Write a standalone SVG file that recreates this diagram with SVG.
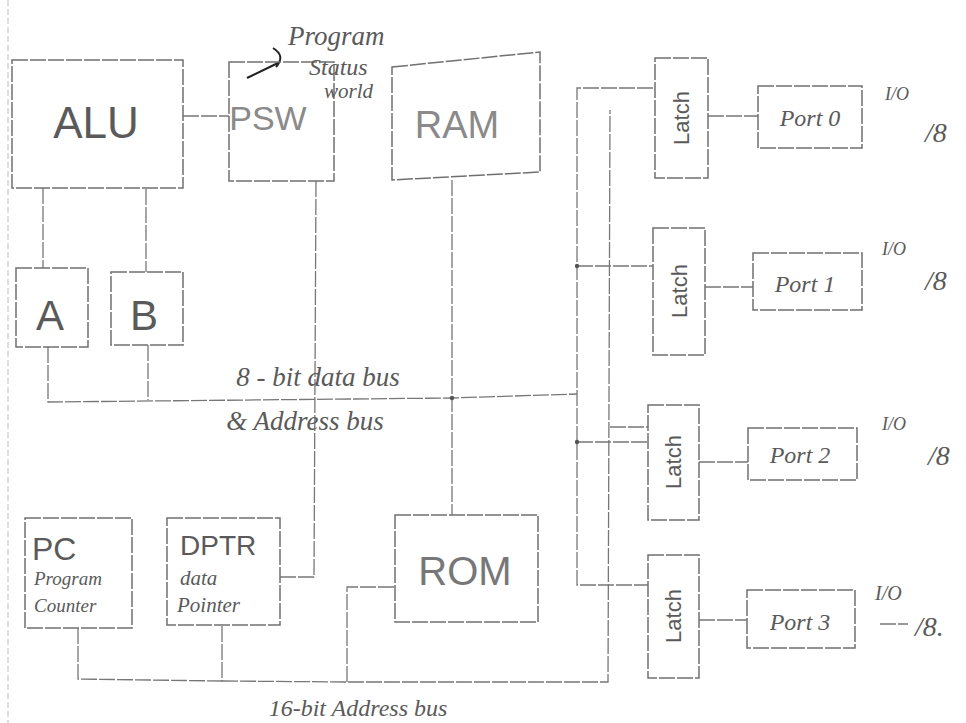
<svg xmlns="http://www.w3.org/2000/svg" width="966" height="723" viewBox="0 0 966 723">
<style>
.bx{fill:none;stroke:#707070;stroke-width:1.5;stroke-dasharray:16 2}
.ln{fill:none;stroke:#777777;stroke-width:1.3;stroke-dasharray:16 2}
.t{font-family:"Liberation Sans",Arial,sans-serif;fill:#5a5a5a;text-anchor:middle}
.h{font-family:"Liberation Serif","Times New Roman",serif;font-style:italic;fill:#5a5a5a}
.dot{fill:#555}
</style>
<rect width="966" height="723" fill="#ffffff"/>
<line x1="8" y1="0" x2="8" y2="723" stroke="#c4c8cc" stroke-width="1.2" stroke-dasharray="6 3"/>

<g id="connectors">
  <line class="ln" x1="183" y1="116" x2="229" y2="116"/>
  <line class="ln" x1="43" y1="188" x2="43" y2="268"/>
  <line class="ln" x1="146" y1="189" x2="146" y2="272"/>
  <polyline class="ln" points="48,347 48,402 452,398 577,394"/>
  <line class="ln" x1="148" y1="345" x2="148" y2="400"/>
  <polyline class="ln" points="316,181 314,577 280,577"/>
  <line class="ln" x1="452" y1="180" x2="452" y2="515"/>
  <polyline class="ln" points="653,88 577,88 577,585 648,585"/>
  <line class="ln" x1="577" y1="266" x2="653" y2="266"/>
  <line class="ln" x1="610" y1="427" x2="648" y2="427"/>
  <line class="ln" x1="577" y1="442" x2="648" y2="442"/>
  <polyline class="ln" points="78,628 78,679 222,681 222,625"/>
  <polyline class="ln" points="222,681 347,682 608,682 610,110"/>
  <polyline class="ln" points="347,682 347,587 395,587"/>
  <line class="ln" x1="708" y1="116" x2="758" y2="116"/>
  <line class="ln" x1="705" y1="287" x2="753" y2="287"/>
  <line class="ln" x1="699" y1="462" x2="748" y2="462"/>
  <line class="ln" x1="699" y1="620" x2="747" y2="620"/>
  <circle class="dot" cx="452" cy="398" r="2.2"/>
  <circle class="dot" cx="577" cy="266" r="2.2"/>
  <circle class="dot" cx="577" cy="442" r="2.2"/>
  <path d="M247,78 L278,63" fill="none" stroke="#222" stroke-width="2.2"/>
  <path d="M273,48 Q286,56 276,67" fill="none" stroke="#222" stroke-width="2"/>
</g>

<g id="alu"><rect class="bx" x="12" y="60" width="171" height="128"/><text class="t" x="96" y="138" font-size="44">ALU</text></g>
<g id="psw"><rect class="bx" x="229" y="62" width="105" height="119"/><text class="t" x="268" y="130" font-size="34" style="fill:#8a8a8a">PSW</text></g>
<g id="psw-note">
  <text class="h" x="288" y="45" font-size="27">Program</text>
  <text class="h" x="309" y="75" font-size="24">Status</text>
  <text class="h" x="324" y="98" font-size="21">world</text>
</g>
<g id="ram"><polygon class="bx" points="392,67 540,52 540,172 392,180"/><text class="t" x="457" y="138" font-size="38" style="fill:#8a8a8a">RAM</text></g>
<g id="a"><rect class="bx" x="16" y="268" width="72" height="79"/><text class="t" x="50" y="330" font-size="42">A</text></g>
<g id="b"><rect class="bx" x="111" y="272" width="72" height="73"/><text class="t" x="144" y="330" font-size="42">B</text></g>
<g id="databus-label">
  <text class="h" x="318" y="386" font-size="27" text-anchor="middle">8 - bit  data bus</text>
  <text class="h" x="305" y="430" font-size="27" text-anchor="middle">&amp; Address  bus</text>
</g>
<g id="pc"><rect class="bx" x="25" y="518" width="107" height="110"/>
  <text class="t" x="32" y="560" font-size="32" style="text-anchor:start">PC</text>
  <text class="h" x="34" y="585" font-size="19">Program</text>
  <text class="h" x="34" y="612" font-size="19">Counter</text></g>
<g id="dptr"><rect class="bx" x="167" y="518" width="113" height="107"/>
  <text class="t" x="180" y="555" font-size="28" style="text-anchor:start">DPTR</text>
  <text class="h" x="180" y="585" font-size="21">data</text>
  <text class="h" x="177" y="612" font-size="21">Pointer</text></g>
<g id="rom"><rect class="bx" x="395" y="515" width="143" height="107"/><text class="t" x="465" y="585" font-size="40" style="fill:#777">ROM</text></g>
<g id="addrbus-label"><text class="h" x="358" y="716" font-size="24" text-anchor="middle">16-bit  Address  bus</text></g>

<g id="latch0"><rect class="bx" x="655" y="58" width="53" height="120"/><text class="t" x="0" y="0" font-size="22" transform="translate(689,118) rotate(-90)">Latch</text></g>
<g id="port0"><rect class="bx" x="758" y="86" width="104" height="62"/><text class="h" x="810" y="126" font-size="24" text-anchor="middle">Port 0</text></g>
<g id="io0"><text class="h" x="885" y="100" font-size="18">I/O</text><text class="h" x="925" y="142" font-size="28">/8</text></g>

<g id="latch1"><rect class="bx" x="653" y="228" width="52" height="127"/><text class="t" x="0" y="0" font-size="22" transform="translate(687,291) rotate(-90)">Latch</text></g>
<g id="port1"><rect class="bx" x="753" y="253" width="109" height="57"/><text class="h" x="805" y="292" font-size="24" text-anchor="middle">Port 1</text></g>
<g id="io1"><text class="h" x="882" y="255" font-size="18">I/O</text><text class="h" x="925" y="290" font-size="28">/8</text></g>

<g id="latch2"><rect class="bx" x="648" y="405" width="51" height="115"/><text class="t" x="0" y="0" font-size="22" transform="translate(681,462) rotate(-90)">Latch</text></g>
<g id="port2"><rect class="bx" x="748" y="428" width="109" height="52"/><text class="h" x="800" y="463" font-size="24" text-anchor="middle">Port 2</text></g>
<g id="io2"><text class="h" x="882" y="430" font-size="18">I/O</text><text class="h" x="928" y="465" font-size="28">/8</text></g>

<g id="latch3"><rect class="bx" x="648" y="555" width="51" height="123"/><text class="t" x="0" y="0" font-size="22" transform="translate(681,616) rotate(-90)">Latch</text></g>
<g id="port3"><rect class="bx" x="747" y="590" width="108" height="58"/><text class="h" x="800" y="630" font-size="24" text-anchor="middle">Port 3</text></g>
<g id="io3"><text class="h" x="875" y="600" font-size="20">I/O</text><line class="ln" x1="880" y1="624" x2="908" y2="624"/><text class="h" x="915" y="636" font-size="28">/8.</text></g>
</svg>
